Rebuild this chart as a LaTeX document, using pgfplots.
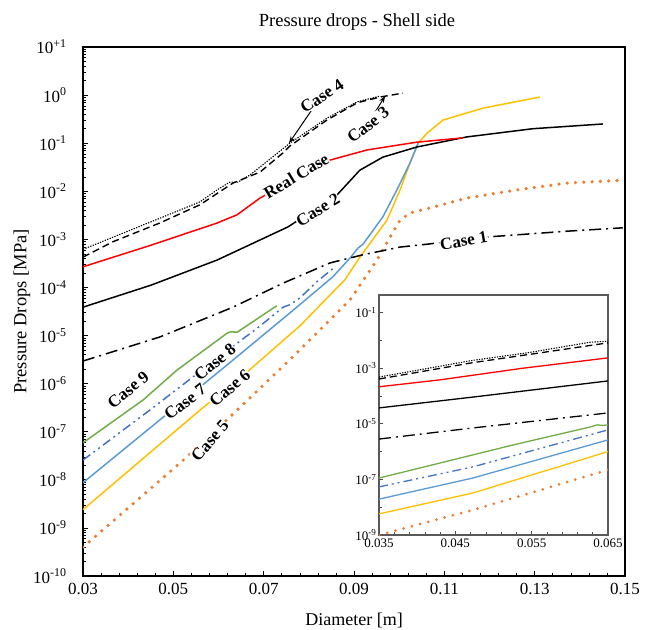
\documentclass[border=0pt]{standalone}
\usepackage{fontspec}
\setmainfont{Liberation Serif}
\usepackage{pgfplots}
\pgfplotsset{compat=1.18}
\usepackage{pgfplotstable}
\usetikzlibrary{arrows.meta}

\definecolor{cred}{HTML}{FF0000}
\definecolor{cgreen}{HTML}{70AD47}
\definecolor{cblue}{HTML}{4472C4}
\definecolor{clblue}{HTML}{5B9BD5}
\definecolor{cyellow}{HTML}{FFC000}
\definecolor{corange}{HTML}{ED7D31}

% ---------------- main chart data ----------------
% Case 4 (dotted)
\pgfplotstableread{
x y
0.0300 6.2e-4
0.0470 2.75e-3
0.0559 6.03e-3
0.0597 1.07e-2
0.0625 1.55e-2
0.0643 1.55e-2
0.0670 2.19e-2
0.0758 1.00e-1
0.0840 3.31e-1
0.0907 7.24e-1
0.0958 9.55e-1
}\caseFour
% Case 3 (dashed)
\pgfplotstableread{
x y
0.0300 4.27e-4
0.0366 8.91e-4
0.0470 2.19e-3
0.0559 5.25e-3
0.0632 1.48e-2
0.0692 2.51e-2
0.0743 6.31e-2
0.0758 8.71e-2
0.0840 3.02e-1
0.0907 6.92e-1
0.0958 9.12e-1
0.1008 1.10
}\caseThree
% Real case (red)
\pgfplotstableread{
x y
0.0300 2.69e-4
0.0451 7.59e-4
0.0597 2.19e-3
0.0641 3.24e-3
0.0692 7.24e-3
0.0840 4.27e-2
0.0929 7.24e-2
0.1039 1.05e-1
0.1141 1.29e-1
}\realCase
% Case 2 (black solid)
\pgfplotstableread{
x y
0.0300 3.89e-5
0.0451 1.12e-4
0.0597 3.72e-4
0.0754 1.82e-3
0.0862 8.32e-3
0.0913 2.75e-2
0.0964 5.13e-2
0.1039 8.32e-2
0.1150 1.35e-1
0.1296 2.00e-1
0.1451 2.51e-1
}\caseTwo
% Case 1 (dash-dot)
\pgfplotstableread{
x y
0.0300 2.95e-6
0.0470 9.33e-6
0.0632 3.89e-5
0.0743 1.23e-4
0.0847 3.24e-4
0.0920 4.79e-4
0.1002 6.92e-4
0.1062 7.94e-4
0.1194 1.12e-3
0.1372 1.48e-3
0.1495 1.74e-3
}\caseOne
% Case 9 (green)
\pgfplotstableread{
x y
0.0300 5.89e-8
0.0433 4.57e-7
0.0508 1.91e-6
0.0619 1.12e-5
0.0627 1.20e-5
0.0641 1.17e-5
0.0729 4.17e-5
}\caseNine
% Case 8 (blue dash-dot-dot)
\pgfplotstableread{
x y
0.0300 2.57e-8
0.0448 2.82e-7
0.0592 3.09e-6
0.0692 1.58e-5
0.0743 3.89e-5
0.0758 4.37e-5
0.0780 6.03e-5
0.0818 1.32e-4
0.0858 2.69e-4
}\caseEight
% Case 7 (light blue)
\pgfplotstableread{
x y
0.0300 8.71e-9
0.0464 1.58e-7
0.0619 2.45e-6
0.0758 2.95e-5
0.0853 1.66e-4
0.0891 4.07e-4
0.0909 6.61e-4
0.0920 7.94e-4
0.0964 2.95e-3
0.0995 1.07e-2
0.1024 3.89e-2
0.1042 1.00e-1
}\caseSeven
% Case 6 (yellow)
\pgfplotstableread{
x y
0.0300 2.40e-9
0.0559 2.82e-7
0.0663 1.74e-6
0.0780 1.58e-5
0.0880 1.45e-4
0.0913 4.27e-4
0.0973 2.51e-3
0.1002 1.07e-2
0.1024 3.89e-2
0.1042 1.00e-1
0.1062 1.62e-1
0.1097 3.02e-1
0.1186 5.37e-1
0.1312 9.12e-1
}\caseSix
% Case 5 (orange dotted)
\pgfplotstableread{
x y
0.0300 3.98e-10
0.0515 2.24e-8
0.0619 1.78e-7
0.0765 3.63e-6
0.0891 5.50e-5
0.0951 3.72e-4
0.0980 1.12e-3
0.1002 2.51e-3
0.1024 3.55e-3
0.1075 4.68e-3
0.1150 7.24e-3
0.1261 1.07e-2
0.1372 1.48e-2
0.1495 1.70e-2
}\caseFive

% ---------------- inset data (as drawn in the inset) ----------------
\pgfplotstableread{
x y
0.0350 4.79e-4
0.0473 1.91e-3
0.0544 3.55e-3
0.0626 8.51e-3
0.0650 9.33e-3
}\inFour
\pgfplotstableread{
x y
0.0350 4.07e-4
0.0473 1.58e-3
0.0561 3.55e-3
0.0650 8.13e-3
}\inThree
\pgfplotstableread{
x y
0.0350 2.14e-4
0.0430 3.80e-4
0.0539 1.00e-3
0.0650 2.34e-3
}\inReal
\pgfplotstableread{
x y
0.0350 3.72e-5
0.0473 9.12e-5
0.0650 3.47e-4
}\inTwo
\pgfplotstableread{
x y
0.0350 2.82e-6
0.0473 7.08e-6
0.0650 2.45e-5
}\inOne
\pgfplotstableread{
x y
0.0350 1.12e-7
0.0430 3.89e-7
0.0526 1.74e-6
0.0626 7.59e-6
0.0636 9.12e-6
0.0643 8.71e-6
0.0650 9.12e-6
}\inNine
\pgfplotstableread{
x y
0.0350 5.37e-8
0.0473 2.82e-7
0.0650 6.03e-6
}\inEight
\pgfplotstableread{
x y
0.0350 1.95e-8
0.0473 1.12e-7
0.0650 2.63e-6
}\inSeven
\pgfplotstableread{
x y
0.0350 5.75e-9
0.0473 3.24e-8
0.0650 1.00e-6
}\inSix
\pgfplotstableread{
x y
0.0350 1.00e-9
0.0473 7.94e-9
0.0650 2.19e-7
}\inFive

\tikzset{
  c4/.style={black, line width=1.1pt, dash pattern=on 1.3pt off 1.3pt},
  c3/.style={black, line width=1.4pt, dash pattern=on 7pt off 4pt},
  creal/.style={cred, line width=1.5pt},
  c2/.style={black, line width=1.5pt},
  c1/.style={black, line width=1.5pt, dash pattern=on 12pt off 5pt on 2pt off 5pt},
  c9/.style={cgreen, line width=1.5pt},
  c8/.style={cblue, line width=1.5pt, dash pattern=on 9pt off 4pt on 2pt off 4pt on 2pt off 4pt},
  c7/.style={clblue, line width=1.5pt},
  c6/.style={cyellow, line width=1.5pt},
  c5/.style={corange, line width=3.6pt, line cap=round, dash pattern=on 0pt off 8.3pt},
  lab/.style={font=\fontsize{17}{17}\selectfont\bfseries, fill=white, inner sep=0.5pt},
}

\begin{document}
\begin{tikzpicture}
\useasboundingbox (-83pt,-53pt) rectangle (569pt,576pt);
\begin{axis}[
  at={(0pt,0pt)}, anchor=south west,
  scale only axis, width=542pt, height=529pt,
  xmin=0.03, xmax=0.15, ymode=log, ymin=1e-10, ymax=10,
  scaled x ticks=false,
  xtick={0.03,0.05,0.07,0.09,0.11,0.13,0.15},
  xticklabels={0.03,0.05,0.07,0.09,0.11,0.13,0.15},
  minor x tick num=4,
  ytick={1e-10,1e-9,1e-8,1e-7,1e-6,1e-5,1e-4,1e-3,1e-2,1e-1,1,10},
  minor ytick={2e-10,3e-10,4e-10,5e-10,6e-10,7e-10,8e-10,9e-10,
    2e-9,3e-9,4e-9,5e-9,6e-9,7e-9,8e-9,9e-9,
    2e-8,3e-8,4e-8,5e-8,6e-8,7e-8,8e-8,9e-8,
    2e-7,3e-7,4e-7,5e-7,6e-7,7e-7,8e-7,9e-7,
    2e-6,3e-6,4e-6,5e-6,6e-6,7e-6,8e-6,9e-6,
    2e-5,3e-5,4e-5,5e-5,6e-5,7e-5,8e-5,9e-5,
    2e-4,3e-4,4e-4,5e-4,6e-4,7e-4,8e-4,9e-4,
    2e-3,3e-3,4e-3,5e-3,6e-3,7e-3,8e-3,9e-3,
    2e-2,3e-2,4e-2,5e-2,6e-2,7e-2,8e-2,9e-2,
    2e-1,3e-1,4e-1,5e-1,6e-1,7e-1,8e-1,9e-1,
    2,3,4,5,6,7,8,9},
  yticklabels={10\textsuperscript{-10},10\textsuperscript{-9},10\textsuperscript{-8},10\textsuperscript{-7},10\textsuperscript{-6},10\textsuperscript{-5},10\textsuperscript{-4},10\textsuperscript{-3},10\textsuperscript{-2},10\textsuperscript{-1},10\textsuperscript{0},10\textsuperscript{+1}},
  xtick pos=bottom, ytick pos=left,
  tick align=inside,
  major tick length=5pt, minor tick length=3pt,
  tick style={black, line width=0.8pt},
  minor tick style={black, line width=0.5pt},
  axis line style={line width=2pt},
  tick label style={font=\fontsize{17}{20}\selectfont},
  yticklabel style={xshift=-13pt},
  xticklabel style={yshift=-4pt},
  title={Pressure drops - Shell side},
  title style={font=\fontsize{18.5}{20}\selectfont, at={(axis description cs:0.5,1)}, anchor=center, yshift=19pt, xshift=3pt},
  xlabel={Diameter [m]},
  xlabel style={font=\fontsize{18}{20}\selectfont, at={(axis description cs:0.5,0)}, anchor=center, yshift=-44pt},
  ylabel={Pressure Drops [MPa]},
  ylabel style={font=\fontsize{18.5}{20}\selectfont, at={(axis description cs:-0.1125,0.5)}, anchor=center},
  no markers,
]
\addplot[c5] table {\caseFive};
\addplot[c6] table {\caseSix};
\addplot[c7] table {\caseSeven};
\addplot[c8] table {\caseEight};
\addplot[c9] table {\caseNine};
\addplot[c1] table {\caseOne};
\addplot[c2] table {\caseTwo};
\addplot[creal] table {\realCase};
\addplot[c3] table {\caseThree};
\addplot[c4] table {\caseFour};

\draw[-{Stealth[length=7pt,width=5pt]}, line width=1pt] (axis cs:0.0805,0.468) -- (axis cs:0.0756,0.1);
\draw[-{Stealth[length=7pt,width=5pt]}, line width=1pt] (axis cs:0.0940,0.35) -- (axis cs:0.0969,0.955);

\node[lab, rotate=33] at (axis cs:0.0829,0.955) {Case 4};
\node[lab, rotate=38] at (axis cs:0.0931,0.24) {Case 3};
\node[lab, rotate=31] at (axis cs:0.0772,0.0209) {Real Case};
\node[lab, rotate=31] at (axis cs:0.0820,4.07e-3) {Case 2};
\node[lab, rotate=10] at (axis cs:0.1143,9.33e-4) {Case 1};
\node[lab, rotate=39] at (axis cs:0.0400,7.41e-7) {Case 9};
\node[lab, rotate=39] at (axis cs:0.0592,2.82e-6) {Case 8};
\node[lab, rotate=38] at (axis cs:0.0526,4.17e-7) {Case 7};
\node[lab, rotate=41] at (axis cs:0.0625,8.13e-7) {Case 6};
\node[lab, rotate=49] at (axis cs:0.0581,6.46e-8) {Case 5};
\end{axis}

\begin{axis}[
  at={(296pt,41pt)}, anchor=south west,
  scale only axis, width=229pt, height=240pt,
  xmin=0.035, xmax=0.065, ymode=log, ymin=1e-9, ymax=0.427,
  scaled x ticks=false,
  axis background/.style={fill=white},
  xtick={0.035,0.045,0.055,0.065},
  xticklabels={0.035,0.045,0.055,0.065},
  minor x tick num=4,
  ytick={1e-9,1e-7,1e-5,1e-3,1e-1},
  minor ytick={1e-8,1e-6,1e-4,1e-2},
  yticklabels={10\textsuperscript{-9},10\textsuperscript{-7},10\textsuperscript{-5},10\textsuperscript{-3},10\textsuperscript{-1}},
  xtick pos=bottom, ytick pos=left,
  tick align=inside,
  major tick length=4pt, minor tick length=3pt,
  tick style={black!70, line width=0.6pt},
  axis line style={draw=black!65, line width=1.3pt},
  tick label style={font=\fontsize{13}{15}\selectfont},
  yticklabel style={xshift=1pt},
  no markers,
]
\addplot[c5, line width=3pt, dash pattern=on 0pt off 8.5pt] table {\inFive};
\addplot[c6, line width=1.3pt] table {\inSix};
\addplot[c7, line width=1.3pt] table {\inSeven};
\addplot[c8, line width=1.3pt] table {\inEight};
\addplot[c9, line width=1.3pt] table {\inNine};
\addplot[c1, line width=1.3pt] table {\inOne};
\addplot[c2, line width=1.3pt] table {\inTwo};
\addplot[creal, line width=1.3pt] table {\inReal};
\addplot[c3, line width=1.3pt] table {\inThree};
\addplot[c4, line width=1.1pt] table {\inFour};
\end{axis}
\end{tikzpicture}
\end{document}
